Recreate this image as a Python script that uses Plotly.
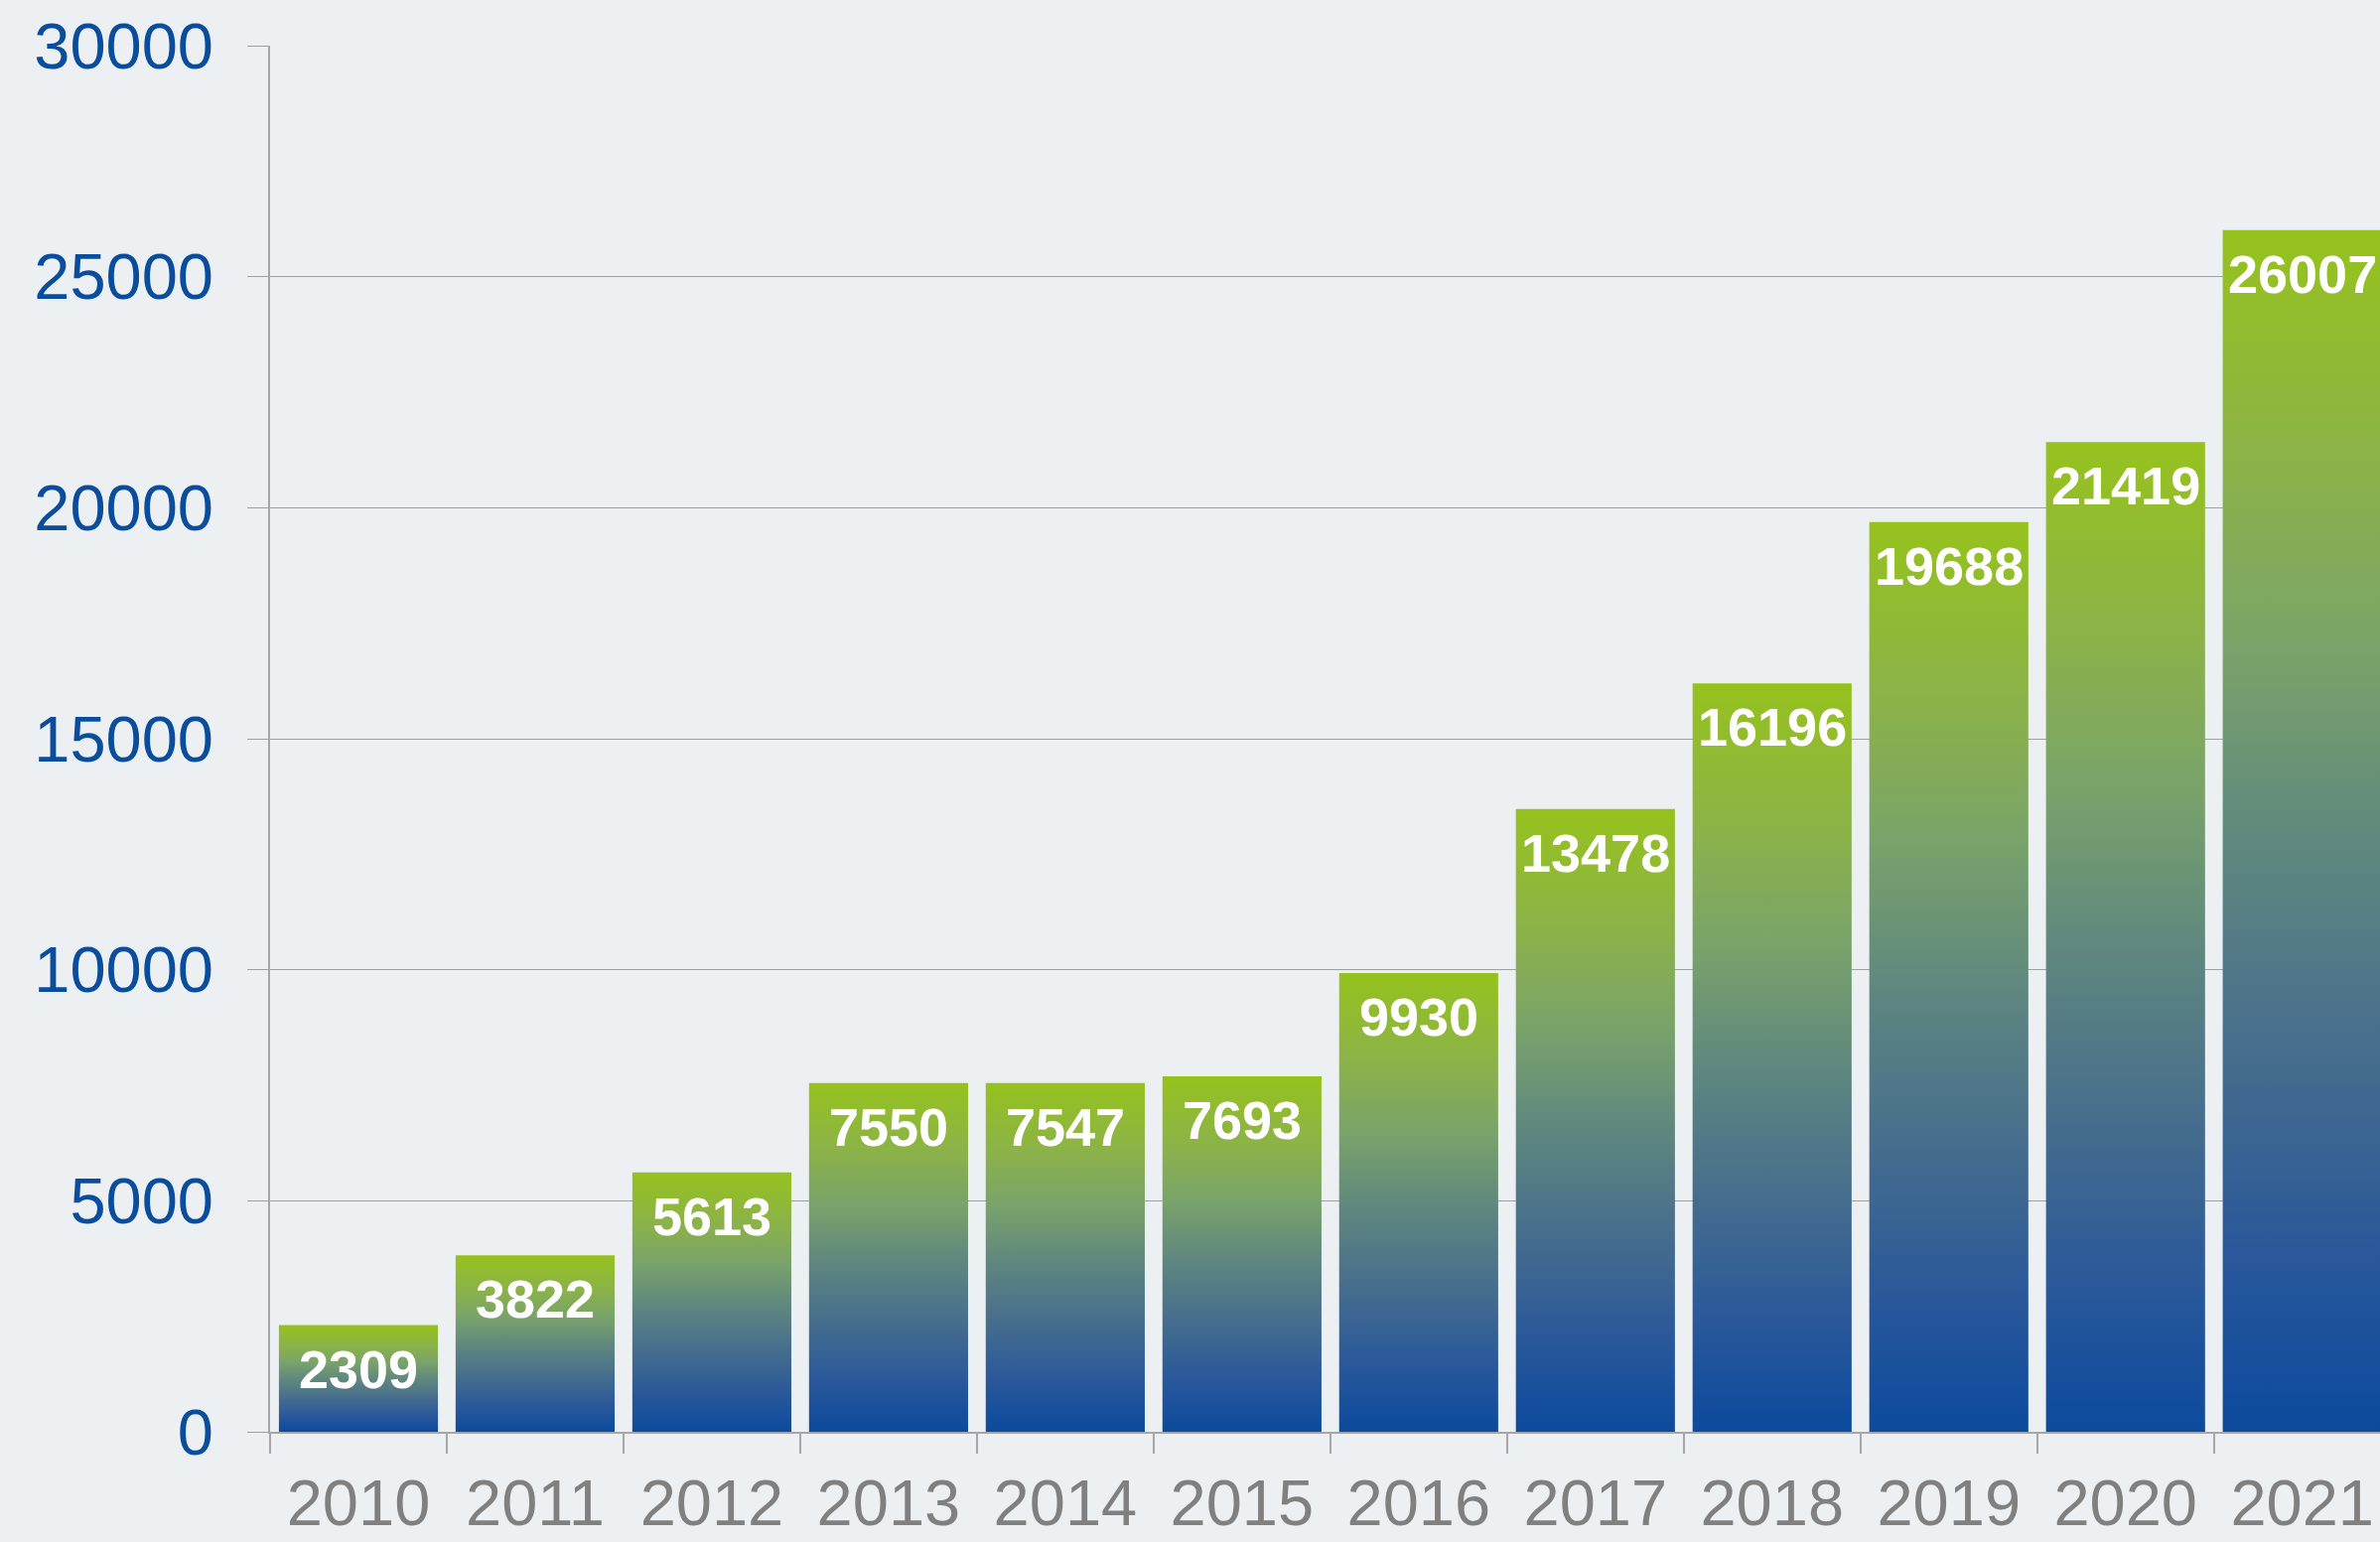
import plotly.graph_objects as go

years = ["2010", "2011", "2012", "2013", "2014", "2015", "2016", "2017", "2018", "2019", "2020", "2021"]
values = [2309, 3822, 5613, 7550, 7547, 7693, 9930, 13478, 16196, 19688, 21419, 26007]
y_ticks = [0, 5000, 10000, 15000, 20000, 25000, 30000]

BG = "#edf0f3"
BAR_W = 0.9
GRADIENT = [
    [0.0, "#0c4a9d"],
    [0.15, "#2a589a"],
    [0.32, "#476e8d"],
    [0.5, "#61897e"],
    [0.65, "#79a36a"],
    [0.8, "#8bb24a"],
    [1.0, "#96c21d"],
]

fig = go.Figure()
for i, v in enumerate(values):
    x0, x1 = i - BAR_W / 2, i + BAR_W / 2
    fig.add_trace(go.Scatter(
        x=[x0, x1, x1, x0, x0],
        y=[0, 0, v, v, 0],
        mode="lines",
        line=dict(width=0),
        fill="toself",
        fillgradient=dict(type="vertical", colorscale=GRADIENT, start=0, stop=v),
        hoverinfo="skip",
        showlegend=False,
    ))
    fig.add_annotation(
        x=i, y=v, text=str(v), showarrow=False, yanchor="top", yshift=-12,
        font=dict(family="Liberation Sans", size=54, color="white", weight="bold"),
    )

fig.update_layout(
    width=2397, height=1553,
    margin=dict(l=272, r=0, t=46, b=111, pad=0),
    paper_bgcolor=BG, plot_bgcolor=BG,
    showlegend=False,
)
fig.update_xaxes(
    range=[-0.5, 11.44], automargin=False,
    tickmode="array", tickvals=list(range(len(years))), ticktext=years,
    ticks="", showgrid=False, zeroline=False,
    showline=True, linecolor="#a6a6a6", linewidth=2,
    tickfont=dict(family="Liberation Sans", size=65, color="#808080"),
    ticklabelstandoff=14,
    minor=dict(tick0=0.5, dtick=1, ticks="outside", ticklen=20, tickwidth=2, tickcolor="#a6a6a6", showgrid=False),
)
fig.update_yaxes(
    range=[0, 30000], automargin=False,
    tickmode="array", tickvals=y_ticks, ticktext=[str(t) for t in y_ticks],
    ticks="outside", ticklen=21, tickwidth=1, tickcolor="#a0a0a0",
    showgrid=True, gridcolor="#a0a0a0", gridwidth=1,
    zeroline=False, showline=True, linecolor="#a6a6a6", linewidth=2,
    tickfont=dict(family="Liberation Sans", size=65, color="#0a4d9c"),
    ticklabelstandoff=21,
)

fig.write_html("out.html")
